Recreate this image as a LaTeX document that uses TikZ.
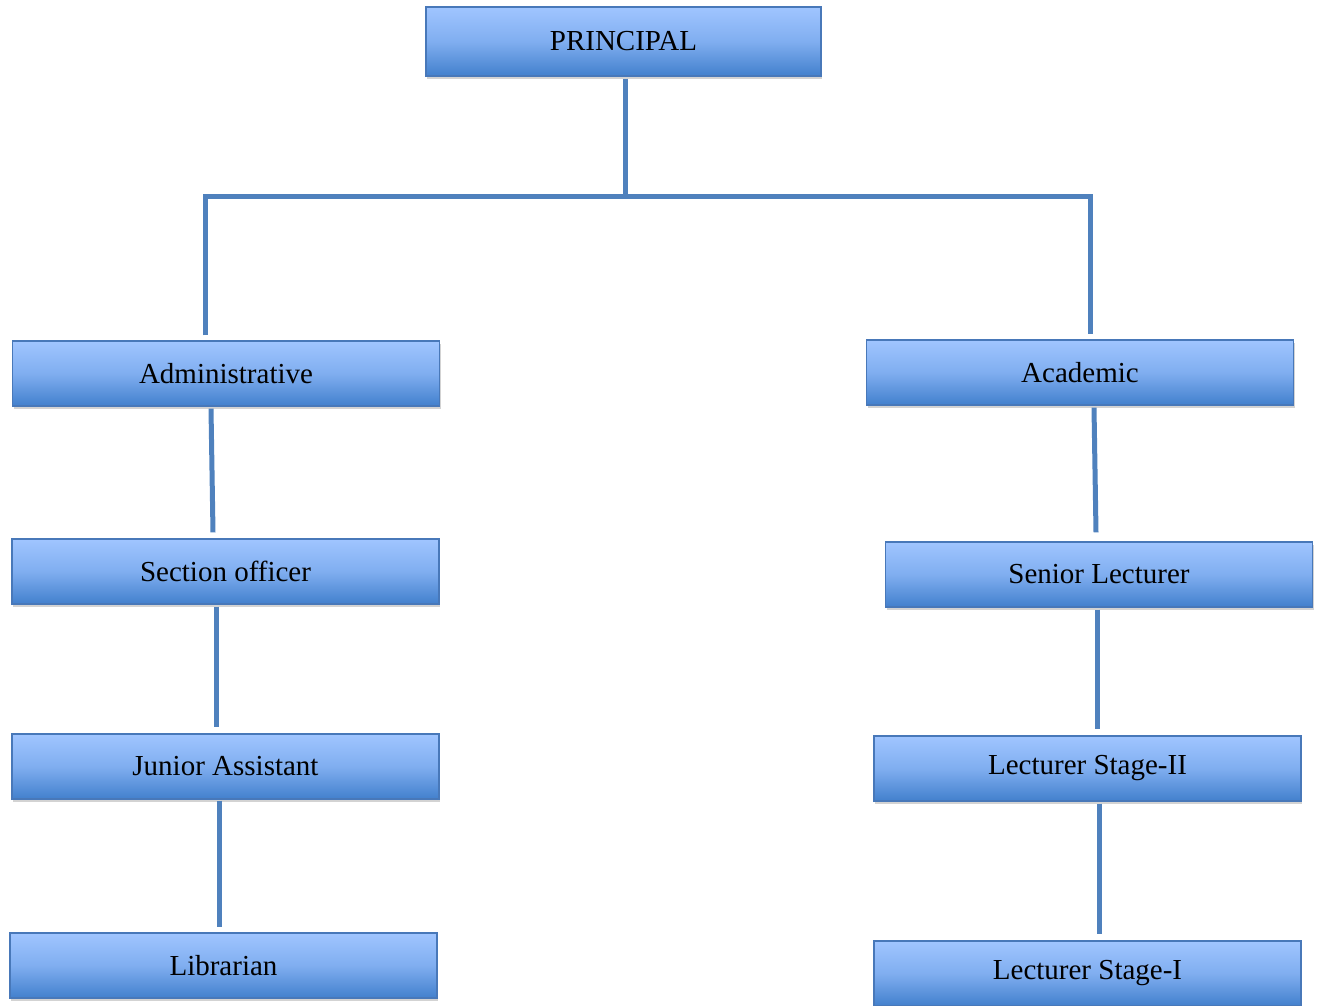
\documentclass[tikz,border=0pt]{standalone}
\usepackage{fontspec}
\setmainfont{Liberation Serif}
\usetikzlibrary{shadows}

\definecolor{boxtop}{RGB}{160,197,255}
\definecolor{boxmid}{RGB}{128,174,240}
\definecolor{boxbottom}{RGB}{66,128,205}
\definecolor{boxedge}{RGB}{72,120,185}
\definecolor{linkblue}{RGB}{79,129,189}

\begin{document}
\begin{tikzpicture}[x=1pt, y=-1pt,
        role_style/.style={rectangle, draw=boxedge, line width=1.2pt, inner sep=0pt,
            minimum width=427pt, minimum height=65pt,
            top color=boxtop, bottom color=boxbottom, middle color=boxmid,
            drop shadow={shadow xshift=1pt, shadow yshift=-3pt, opacity=0.35},
            font=\fontsize{29}{34}\selectfont},
        link_style/.style={draw=linkblue, line width=5pt}]

        \useasboundingbox (0,0) rectangle (1317,1005);

        \node [role_style, minimum width=395pt, minimum height=69pt] (prin) at (623.5,41.5) {PRINCIPAL};

        \node [role_style] (adm) at (226,373.5) {Administrative};

        \node [role_style] (acd) at (1080,372.5) {Academic};

        \node [role_style] (sec) at (225.5,571.5) {Section officer};

        \node [role_style] (jun) at (225.5,766.5) {Junior Assistant};

        \node [role_style] (lib) at (223.5,965.5) {Librarian};

        \node [role_style] (snr) at (1099,574.5) {Senior Lecturer};

        \node [role_style] (st2) at (1087.5,768.5) {Lecturer Stage-II};

        \node [role_style] (st1) at (1087.5,973.5) {Lecturer Stage-I};

        \coordinate (fork) at (625,196);

        \draw [link_style] ([xshift=1.5pt,yshift=-2pt]prin.south) -- (fork);

        \draw [link_style] ([xshift=-21pt,yshift=5pt]adm.north) |- (fork) -| ([xshift=10pt,yshift=5pt]acd.north);

        \draw [link_style] ([xshift=-15pt,yshift=-2pt]adm.south) -- ([xshift=-12.5pt,yshift=6pt]sec.north);

        \draw [link_style] ([xshift=-9.5pt,yshift=-2pt]sec.south) -- ([xshift=-9.5pt,yshift=6pt]jun.north);

        \draw [link_style] ([xshift=-6.5pt,yshift=-1pt]jun.south) -- ([xshift=-4.5pt,yshift=5pt]lib.north);

        \draw [link_style] ([xshift=14pt,yshift=-2pt]acd.south) -- ([xshift=-3pt,yshift=9pt]snr.north);

        \draw [link_style] ([xshift=-2pt,yshift=-2pt]snr.south) -- ([xshift=9.5pt,yshift=6pt]st2.north);

        \draw [link_style] ([xshift=11.5pt,yshift=-2pt]st2.south) -- ([xshift=11.5pt,yshift=6pt]st1.north);

        \end{tikzpicture}
\end{document}
